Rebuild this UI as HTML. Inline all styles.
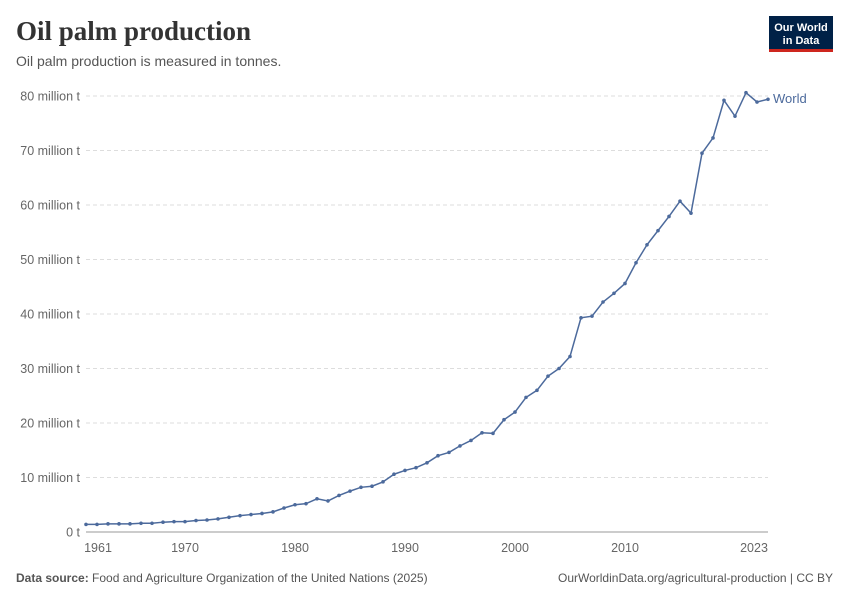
<!DOCTYPE html>
<html><head><meta charset="utf-8"><style>
body{margin:0;width:850px;height:600px;background:#fff;font-family:"Liberation Sans",sans-serif;overflow:hidden}
</style></head><body>
<svg width="850" height="600" xmlns="http://www.w3.org/2000/svg" font-family="Liberation Sans, sans-serif">
<text x="16" y="40" font-family="Liberation Serif, serif" font-size="27" font-weight="bold" fill="#333">Oil palm production</text>
<text x="16" y="66" font-size="14" fill="#555">Oil palm production is measured in tonnes.</text>
<rect x="769" y="16" width="64" height="33" fill="#002147"/>
<rect x="769" y="49" width="64" height="3" fill="#ce261e"/>
<text x="801" y="31" font-size="11" fill="#fff" text-anchor="middle" font-weight="bold">Our World</text>
<text x="801" y="44" font-size="11" fill="#fff" text-anchor="middle" font-weight="bold">in Data</text>
<g id="grid"></g>
<line x1="86" y1="532" x2="768" y2="532" stroke="#999"/>
<g font-size="12.5" fill="#666" text-anchor="middle">
<text x="98" y="552">1961</text><text x="185" y="552">1970</text><text x="295" y="552">1980</text>
<text x="405" y="552">1990</text><text x="515" y="552">2000</text><text x="625" y="552">2010</text><text x="754" y="552">2023</text>
</g>
<g id="plot"></g>
<text x="773" y="103" font-size="13" fill="#4c6a9c">World</text>
<text x="16" y="582" font-size="12" fill="#555"><tspan font-weight="bold">Data source:</tspan> Food and Agriculture Organization of the United Nations (2025)</text>
<text x="833" y="582" font-size="12" fill="#555" text-anchor="end">OurWorldinData.org/agricultural-production | CC BY</text>
</svg>
<script>
var v=[1.4,1.4,1.5,1.5,1.5,1.6,1.6,1.8,1.9,1.9,2.1,2.2,2.4,2.7,3.0,3.2,3.4,3.7,4.4,5.0,5.2,6.1,5.7,6.7,7.5,8.2,8.4,9.2,10.6,11.3,11.8,12.7,14.0,14.6,15.8,16.8,18.2,18.1,20.6,22.0,24.7,26.0,28.6,30.0,32.2,39.3,39.6,42.2,43.8,45.6,49.4,52.7,55.3,57.9,60.7,58.5,69.5,72.3,79.2,76.3,80.6,78.9,79.4];
var ns="http://www.w3.org/2000/svg",g=document.getElementById('grid'),p=document.getElementById('plot');
for(var i=0;i<=8;i++){var y=532-i*54.5;
 if(i>0){var l=document.createElementNS(ns,'line');l.setAttribute('x1',86);l.setAttribute('x2',768);l.setAttribute('y1',y);l.setAttribute('y2',y);l.setAttribute('stroke','#ddd');l.setAttribute('stroke-dasharray','4,3');g.appendChild(l);}
 var t=document.createElementNS(ns,'text');t.setAttribute('x',80);t.setAttribute('y',y+4.5);t.setAttribute('text-anchor','end');t.setAttribute('font-size','12.5');t.setAttribute('fill','#666');t.textContent=i==0?'0 t':(i*10)+' million t';g.appendChild(t);}
var pts=v.map(function(d,i){return [86+i*11,532-d*5.45]});
var pl=document.createElementNS(ns,'polyline');pl.setAttribute('points',pts.map(function(a){return a.join(',')}).join(' '));pl.setAttribute('fill','none');pl.setAttribute('stroke','#4c6a9c');pl.setAttribute('stroke-width','1.5');p.appendChild(pl);
pts.forEach(function(a){var c=document.createElementNS(ns,'circle');c.setAttribute('cx',a[0]);c.setAttribute('cy',a[1]);c.setAttribute('r',1.8);c.setAttribute('fill','#4c6a9c');p.appendChild(c);});
</script>
</body></html>
